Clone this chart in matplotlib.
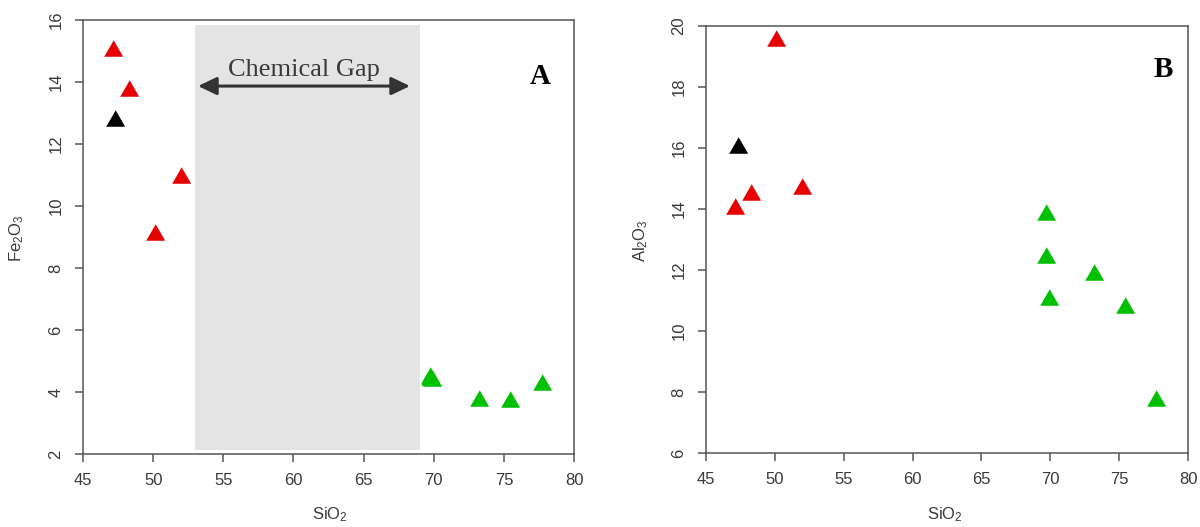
import matplotlib
matplotlib.use("Agg")
import matplotlib.pyplot as plt
from matplotlib.patches import Rectangle, FancyArrowPatch

plt.rcParams['font.family'] = ['Liberation Sans', 'DejaVu Sans']
plt.rcParams['mathtext.fontset'] = 'custom'
plt.rcParams['mathtext.rm'] = 'Liberation Sans'
plt.rcParams['mathtext.it'] = 'Liberation Sans:italic'
plt.rcParams['mathtext.default'] = 'rm'

# ---- data ----
sio2_red = [47.1, 48.3, 50.1, 52.0]
fe2o3_red = [15.1, 13.8, 9.15, 11.0]
al2o3_red = [14.1, 14.55, 19.6, 14.75]

sio2_black = [47.3]
fe2o3_black = [12.85]
al2o3_black = [16.1]

sio2_green = [69.7, 69.7, 69.9, 73.2, 75.4, 77.7]
fe2o3_green = [4.55, 4.5, 4.45, 3.82, 3.79, 4.33]
al2o3_green = [13.9, 12.5, 11.1, 11.93, 10.85, 7.8]

x_ticks = [45, 50, 55, 60, 65, 70, 75, 80]
yA_ticks = [2, 4, 6, 8, 10, 12, 14, 16]
yB_ticks = [6, 8, 10, 12, 14, 16, 18, 20]

gap_range = (53.0, 69.0)
gap_y = (2.13, 15.84)

RED = '#e60000'
GREEN = '#00c000'
BLACK = '#000000'
AXC = '#555555'
TXC = '#3a3a3a'

tri = [(-1, -0.866), (1, -0.866), (0, 0.866)]
MS = 13

fig = plt.figure(figsize=(12, 5.27), dpi=100)
axA = fig.add_axes([0.0692, 0.1385, 0.4092, 0.8235])
axB = fig.add_axes([0.5883, 0.1404, 0.4017, 0.8102])


def style(ax, yticks, ylabel):
    ax.set_xlim(45, 80)
    ax.set_ylim(yticks[0], yticks[-1])
    ax.set_xticks(x_ticks)
    ax.set_yticks(yticks)
    ax.set_yticklabels([str(t) for t in yticks], rotation=90, va='center')
    for s in ax.spines.values():
        s.set_color(AXC)
        s.set_linewidth(1.1)
    ax.tick_params(axis='both', direction='out', length=6, width=1.1,
                   color=AXC, labelcolor=TXC, labelsize=12, pad=8)
    ax.set_xlabel(r'SiO$_2$', fontsize=12, color=TXC, va='center')
    ax.set_ylabel(ylabel, fontsize=12, color=TXC, va='center')


def scatter(ax, xs, ys, color):
    ax.plot(xs, ys, linestyle='none', marker=tri, markersize=MS,
            markerfacecolor=color, markeredgecolor=color, markeredgewidth=0.5, zorder=3)


# Panel A
style(axA, yA_ticks, r'Fe$_2$O$_3$')
axA.add_patch(Rectangle((gap_range[0], gap_y[0]), gap_range[1] - gap_range[0],
                        gap_y[1] - gap_y[0], facecolor='#e5e4e4', edgecolor='none', zorder=1))
arr = FancyArrowPatch((53.0, 13.87), (68.5, 13.87),
                      arrowstyle='<|-|>,head_length=0.75,head_width=0.36',
                      mutation_scale=15, color='#333333', lw=2.2, zorder=2)
axA.add_patch(arr)
axA.text(60.75, 14.39, 'Chemical Gap', family='Liberation Serif', fontsize=19,
         color='#3a3a3a', ha='center', va='center', zorder=2)
axA.text(77.58, 14.19, 'A', family='Liberation Serif', fontweight='bold', fontsize=21,
         color='black', ha='center', va='center')
scatter(axA, sio2_red, fe2o3_red, RED)
scatter(axA, sio2_black, fe2o3_black, BLACK)
scatter(axA, sio2_green, fe2o3_green, GREEN)
axA.xaxis.set_label_coords((330 - 83) / 491, (454 - 515) / 434)
axA.yaxis.set_label_coords((17 - 83) / 491, (454 - 238) / 434)

# Panel B
style(axB, yB_ticks, r'Al$_2$O$_3$')
axB.text(78.2, 18.56, 'B', family='Liberation Serif', fontweight='bold', fontsize=21,
         color='black', ha='center', va='center')
scatter(axB, sio2_red, al2o3_red, RED)
scatter(axB, sio2_black, al2o3_black, BLACK)
scatter(axB, sio2_green, al2o3_green, GREEN)
axB.xaxis.set_label_coords((945 - 706) / 482, (453 - 515) / 427)
axB.yaxis.set_label_coords((641 - 706) / 482, (453 - 241) / 427)

fig.savefig('out.png', dpi=100)
